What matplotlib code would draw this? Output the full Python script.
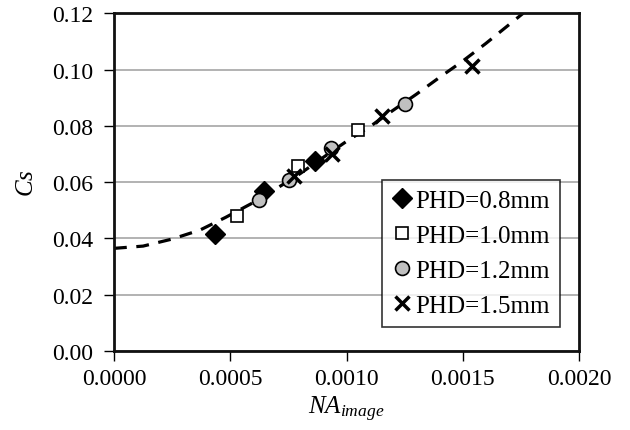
import matplotlib
matplotlib.use("Agg")
import matplotlib.pyplot as plt

plt.rcParams["font.family"] = ["Liberation Serif", "DejaVu Serif"]
plt.rcParams["mathtext.fontset"] = "custom"
plt.rcParams["mathtext.it"] = "Liberation Serif:italic"
plt.rcParams["mathtext.rm"] = "Liberation Serif"

# data
na_08 = [0.000434, 0.000645, 0.000864]
cs_08 = [0.0415, 0.0568, 0.0674]
na_10 = [0.000529, 0.000791, 0.001049]
cs_10 = [0.0479, 0.0657, 0.0785]
na_12 = [0.000624, 0.000753, 0.000933, 0.001251]
cs_12 = [0.0536, 0.0607, 0.0720, 0.0877]
na_15 = [0.000774, 0.000937, 0.001152, 0.001539]
cs_15 = [0.0621, 0.0700, 0.0834, 0.1012]

# dashed trend curve, points read along it
fit_na = [0, 0.000125, 0.00025, 0.00037, 0.00048, 0.0006, 0.0007, 0.0008, 0.0009,
          0.0010, 0.0011, 0.0012, 0.0013, 0.0014, 0.0015, 0.0016, 0.00176]
fit_cs = [0.0365, 0.0373, 0.0398, 0.0430, 0.0475, 0.0528, 0.0578, 0.0630, 0.0688,
          0.0745, 0.0797, 0.0855, 0.0912, 0.0972, 0.1030, 0.1093, 0.1200]

fig = plt.figure(figsize=(6.3, 4.31), dpi=100)
ax = fig.add_axes([0.181, 0.183, 0.738, 0.784])

ax.plot(fit_na, fit_cs, color="black", lw=2.3, dashes=(4, 3), zorder=2)

ax.plot(na_08, cs_08, "D", ms=10.5, color="black", label="PHD=0.8mm", zorder=3)
ax.plot(na_10, cs_10, "s", ms=9, mfc="white", mec="black", mew=1.2, label="PHD=1.0mm", zorder=3)
ax.plot(na_12, cs_12, "o", ms=10, mfc="#c0c0c0", mec="black", mew=1.2, label="PHD=1.2mm", zorder=3)
ax.plot(na_15, cs_15, "x", ms=10, color="black", mew=2.5, label="PHD=1.5mm", zorder=3)

ax.set_xlim(0, 0.002)
ax.set_ylim(0, 0.12)
ax.set_xticks([0, 0.0005, 0.0010, 0.0015, 0.0020])
ax.set_xticklabels(["0.0000", "0.0005", "0.0010", "0.0015", "0.0020"])
ax.set_yticks([0, 0.02, 0.04, 0.06, 0.08, 0.10, 0.12])
ax.set_yticklabels(["0.00", "0.02", "0.04", "0.06", "0.08", "0.10", "0.12"])
ax.tick_params(labelsize=17, direction="out", length=7, width=1, color="black")
ax.tick_params(axis="y", pad=8)
ax.tick_params(axis="x", pad=5)

ax.yaxis.grid(True, color="#a6a6a6", lw=1.2)
ax.set_axisbelow(True)
for s in ax.spines.values():
    s.set_linewidth(2)
    s.set_color("#111111")

ax.set_xlabel("$NA_{image}$", fontsize=18, labelpad=4)
ax.set_ylabel("$Cs$", fontsize=18, labelpad=10)

leg = ax.legend(loc="lower right", bbox_to_anchor=(0.959, 0.071), borderaxespad=0,
                fontsize=18, frameon=True, fancybox=False, handlelength=0.8,
                handletextpad=0.15, labelspacing=0.5, borderpad=0.4)
leg.get_frame().set_edgecolor("black")
leg.get_frame().set_linewidth(1.2)

plt.savefig("out.png", dpi=100)
